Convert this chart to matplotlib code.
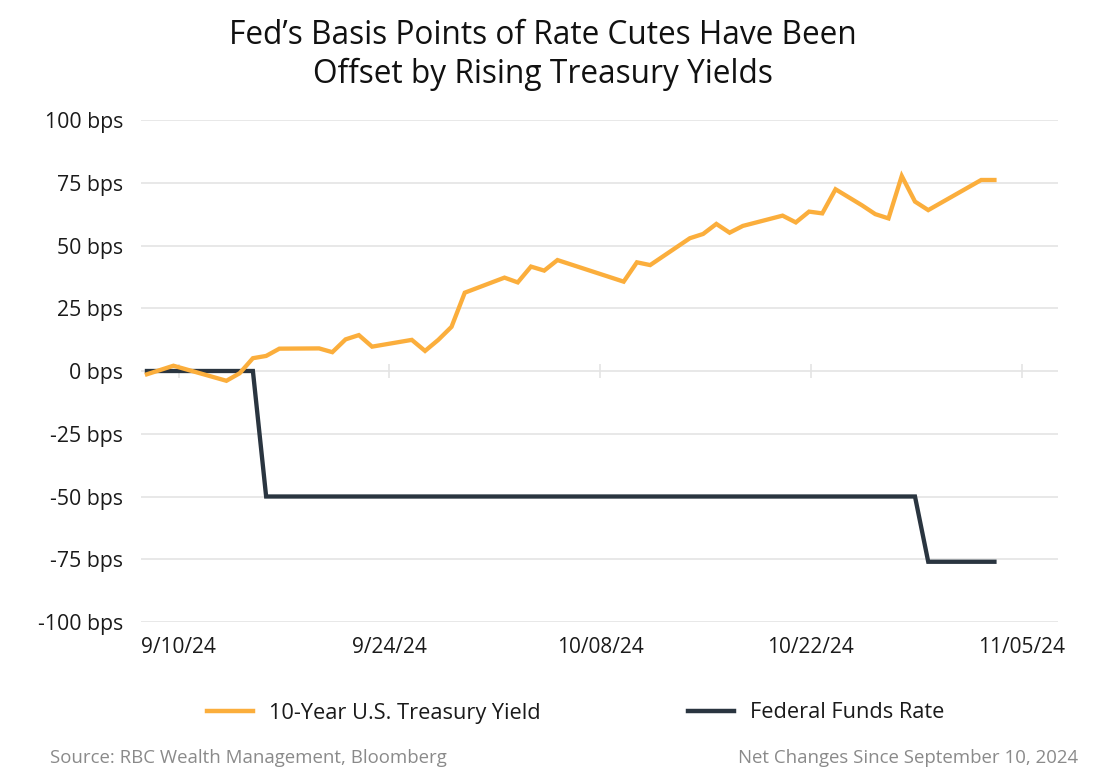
import matplotlib
matplotlib.use("Agg")
import matplotlib.pyplot as plt
from matplotlib.lines import Line2D
import numpy as np

plt.rcParams['font.family'] = ['Open Sans', 'DejaVu Sans']

# ---- data (day offsets since 2024-09-10, net change in bps) ----
tsy_days = [0, 2, 6, 7, 8, 9, 10, 13, 14, 15, 16, 17, 20, 21, 22, 23, 24, 27, 28,
            29, 30, 31, 36, 37, 38, 41, 42, 43, 44, 45, 48, 49, 50, 51, 52, 54, 55,
            56, 57, 58, 59, 63, 64]
tsy_bps = [-1.3, 2.1, -3.9, -0.9, 5.1, 6.0, 8.9, 9.0, 7.5, 12.6, 14.3, 9.7, 12.4,
           8.0, 12.4, 17.6, 31.2, 37.2, 35.3, 41.6, 40.0, 44.2, 35.6, 43.3, 42.2,
           52.9, 54.6, 58.6, 55.1, 57.8, 61.9, 59.2, 63.5, 62.8, 72.4, 66.0, 62.5,
           60.8, 77.7, 67.5, 64.1, 76.1, 76.1]
ffr_days = [0, 8, 9, 58, 59, 64]
ffr_bps = [0, 0, -50, -50, -76, -76]

x_tick_labels = ["9/10/24", "9/24/24", "10/08/24", "10/22/24", "11/05/24"]
y_ticks = [100, 75, 50, 25, 0, -25, -50, -75, -100]
y_tick_labels = [f"{v} bps" for v in y_ticks]

series_names = ["10-Year U.S. Treasury Yield", "Federal Funds Rate"]
title = "Fed\u2019s Basis Points of Rate Cutes Have Been\nOffset by Rising Treasury Yields"
source = "Source: RBC Wealth Management, Bloomberg"
note = "Net Changes Since September 10, 2024"

ORANGE = "#FBAE3C"
DARK = "#2A3540"
GRID = "#E4E4E4"
TXT = "#1a1a1a"

W, H = 1120, 782
fig = plt.figure(figsize=(W / 100, H / 100), dpi=100)
ax = fig.add_axes([141 / W, 1 - 622 / H, (1058 - 141) / W, (622 - 120) / H])

ax.plot(tsy_days, tsy_bps, color=ORANGE, lw=3.1, solid_joinstyle='miter', zorder=3)
ax.plot(ffr_days, ffr_bps, color=DARK, lw=3.1, solid_joinstyle='miter', zorder=2)

ax.set_xlim(-0.45, 68.8)
ax.set_ylim(-100, 100)

for s in ax.spines.values():
    s.set_visible(False)

ax.set_yticks(y_ticks, y_tick_labels)
ax.yaxis.grid(True, color=GRID, lw=1.2)
ax.set_axisbelow(True)
ax.tick_params(axis='y', length=0, pad=13, labelsize=15.3, labelcolor=TXT)

xt = np.linspace(2.4, 66.05, len(x_tick_labels))
ax.set_xticks(xt, x_tick_labels)
ax.tick_params(axis='x', length=0, pad=11, labelsize=15, labelcolor=TXT)

sec = ax.secondary_xaxis(0.5)
sec.set_xticks(xt)
sec.tick_params(axis='x', direction='inout', length=9.5, width=1.2, color=GRID,
                labelbottom=False, labeltop=False)
for s in sec.spines.values():
    s.set_visible(False)

fig.text(543 / W, 1 - 55 / H, title, ha='center', va='center', fontsize=22.8,
         color="#111111", linespacing=1.2)

legend_x = [207, 688]
for h_color, name, lx in zip([ORANGE, DARK], series_names, legend_x):
    h = Line2D([], [], color=h_color, lw=3.2)
    fig.legend([h], [name], loc='center left', bbox_to_anchor=(lx / W, 1 - 713 / H),
               frameon=False, fontsize=15.7, handlelength=2.1, handletextpad=0.75,
               borderpad=0, borderaxespad=0, labelcolor=TXT)

fig.text(50 / W, 1 - 758 / H, source, ha='left', va='center', fontsize=13.4, color="#8a8a8a")
fig.text(1078 / W, 1 - 758 / H, note, ha='right', va='center', fontsize=13.4, color="#8a8a8a")

fig.savefig("out.png", dpi=100)
